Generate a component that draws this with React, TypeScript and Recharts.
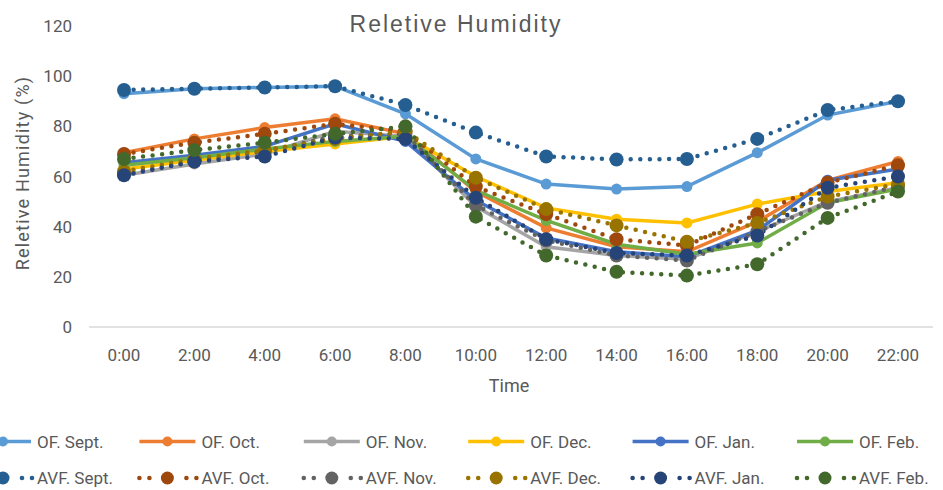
import React from 'react';
import { LineChart, Line, XAxis, YAxis } from 'recharts';

// Hour of day (category axis)
const times = ['0:00', '2:00', '4:00', '6:00', '8:00', '10:00', '12:00', '14:00', '16:00', '18:00', '20:00', '22:00'];

// Relative humidity (%) – OF series
const ofSept = [93, 95, 95.5, 96, 85, 67, 57, 55, 56, 69.5, 84.5, 90];
const ofOct = [69.5, 75, 79.5, 83, 77, 54, 39.5, 32, 30, 42, 58.5, 66];
const ofNov = [60.5, 65, 69, 78, 76, 48, 32, 28.5, 27, 38, 50, 55.5];
const ofDec = [63, 66.5, 70, 73, 76, 60, 47.5, 43, 41.5, 49, 54, 57.5];
const ofJan = [65.5, 68.5, 72, 81, 74, 50.5, 35.5, 30, 28, 38.5, 58.5, 63];
const ofFeb = [64.5, 67.5, 71, 74, 76, 54.5, 42.5, 33, 29, 33.5, 49.5, 55];

// Relative humidity (%) – AVF series
const avfSept = [94.5, 95, 95.5, 96, 88.5, 77.5, 68, 66.8, 67, 75, 86.5, 90];
const avfOct = [69, 73.5, 77, 81, 78, 56, 45, 35, 32.5, 45, 57.5, 64.5];
const avfNov = [61, 66, 70, 76, 77, 48.5, 34.5, 28.5, 26.5, 38, 49.5, 56];
const avfDec = [62, 67, 70.5, 75, 78, 59.5, 47, 40.5, 34, 41.5, 52, 57];
const avfJan = [60.5, 66, 68, 75.5, 75, 51.5, 35, 29.5, 28.5, 36.5, 55.5, 60];
const avfFeb = [67, 70.5, 73.5, 77, 80, 44, 28.5, 22, 20.5, 25, 43.5, 54];

const yTicks = [0, 20, 40, 60, 80, 100, 120];

type SeriesDef = { key: string; name: string; color: string; values: number[]; dotted: boolean };

const series: SeriesDef[] = [
  { key: 'ofSept', name: 'OF. Sept.', color: '#5B9BD5', values: ofSept, dotted: false },
  { key: 'ofOct', name: 'OF. Oct.', color: '#ED7D31', values: ofOct, dotted: false },
  { key: 'ofNov', name: 'OF. Nov.', color: '#A5A5A5', values: ofNov, dotted: false },
  { key: 'ofDec', name: 'OF. Dec.', color: '#FFC000', values: ofDec, dotted: false },
  { key: 'ofJan', name: 'OF. Jan.', color: '#4472C4', values: ofJan, dotted: false },
  { key: 'ofFeb', name: 'OF. Feb.', color: '#70AD47', values: ofFeb, dotted: false },
  { key: 'avfSept', name: 'AVF. Sept.', color: '#255E91', values: avfSept, dotted: true },
  { key: 'avfOct', name: 'AVF. Oct.', color: '#9E480E', values: avfOct, dotted: true },
  { key: 'avfNov', name: 'AVF. Nov.', color: '#636363', values: avfNov, dotted: true },
  { key: 'avfDec', name: 'AVF. Dec.', color: '#997300', values: avfDec, dotted: true },
  { key: 'avfJan', name: 'AVF. Jan.', color: '#264478', values: avfJan, dotted: true },
  { key: 'avfFeb', name: 'AVF. Feb.', color: '#43682B', values: avfFeb, dotted: true },
];

const data = times.map((t, i) => {
  const row: Record<string, string | number> = { time: t };
  series.forEach((s) => {
    row[s.key] = s.values[i];
  });
  return row;
});

const TEXT = '#595959';
const FONT = 'Roboto, "Noto Sans", sans-serif';

function LegendIcon({ cx, cy, s }: { cx: number; cy: number; s: SeriesDef }) {
  if (!s.dotted) {
    return (
      <g>
        <line x1={cx - 28} x2={cx + 28} y1={cy} y2={cy} stroke={s.color} strokeWidth={3.3} />
        <circle cx={cx} cy={cy} r={5} fill={s.color} />
      </g>
    );
  }
  return (
    <g>
      {[-28, -18, 19, 29].map((d) => (
        <circle key={d} cx={cx + d} cy={cy} r={2.3} fill={s.color} />
      ))}
      <circle cx={cx} cy={cy} r={6.5} fill={s.color} />
    </g>
  );
}

function Overlay() {
  const rowY = [441.5, 478];
  return (
    <svg
      width={943}
      height={490}
      style={{ position: 'absolute', left: 0, top: 0, pointerEvents: 'none' }}
    >
      <text
        x={456}
        y={31.5}
        textAnchor="middle"
        fill={TEXT}
        style={{ fontFamily: '"Liberation Sans", Arial, sans-serif', fontSize: 23, letterSpacing: 2 }}
      >
        Reletive Humidity
      </text>
      <text
        x={29}
        y={173}
        transform="rotate(-90 29 173)"
        textAnchor="middle"
        fill={TEXT}
        style={{ fontFamily: FONT, fontSize: 18, letterSpacing: 1.2 }}
      >
        Reletive Humidity (%)
      </text>
      <text x={509} y={392} textAnchor="middle" fill={TEXT} style={{ fontFamily: FONT, fontSize: 18 }}>
        Time
      </text>
      {series.map((s, i) => {
        const col = i % 6;
        const row = Math.floor(i / 6);
        const cx = 3 + col * 164.4;
        const cy = rowY[row];
        return (
          <g key={s.key}>
            <LegendIcon cx={cx} cy={cy} s={s} />
            <text x={cx + 34} y={cy + 6} fill={TEXT} style={{ fontFamily: FONT, fontSize: 17 }}>
              {s.name}
            </text>
          </g>
        );
      })}
    </svg>
  );
}

export default function App() {
  return (
    <div style={{ position: 'absolute', left: 0, top: 0, width: 943, height: 490, background: '#fff' }}>
      <LineChart
        width={943}
        height={490}
        data={data}
        margin={{ top: 26, right: 10, bottom: 0, left: 0 }}
        style={{ fontFamily: FONT }}
      >
        <XAxis
          dataKey="time"
          interval={0}
          height={163}
          padding={{ left: 35, right: 35 }}
          tickLine={false}
          tickSize={0}
          tickMargin={22}
          axisLine={{ stroke: '#D9D9D9', strokeWidth: 1.5 }}
          tick={{ fill: TEXT, fontSize: 17 }}
        />
        <YAxis
          domain={[0, 120]}
          ticks={yTicks}
          width={89}
          axisLine={false}
          tickLine={false}
          tickSize={0}
          tickMargin={17}
          tick={{ fill: TEXT, fontSize: 17 }}
        />
        {series.map((s) =>
          s.dotted ? (
            <Line
              key={s.key}
              type="linear"
              dataKey={s.key}
              name={s.name}
              stroke={s.color}
              strokeWidth={4.5}
              strokeDasharray="0 9.6"
              strokeLinecap="round"
              dot={{ r: 7, fill: s.color, stroke: s.color, strokeWidth: 0, strokeDasharray: '0' }}
              activeDot={false}
              isAnimationActive={false}
            />
          ) : (
            <Line
              key={s.key}
              type="linear"
              dataKey={s.key}
              name={s.name}
              stroke={s.color}
              strokeWidth={3.5}
              dot={{ r: 5.5, fill: s.color, stroke: s.color, strokeWidth: 0 }}
              activeDot={false}
              isAnimationActive={false}
            />
          )
        )}
      </LineChart>
      <Overlay />
    </div>
  );
}
